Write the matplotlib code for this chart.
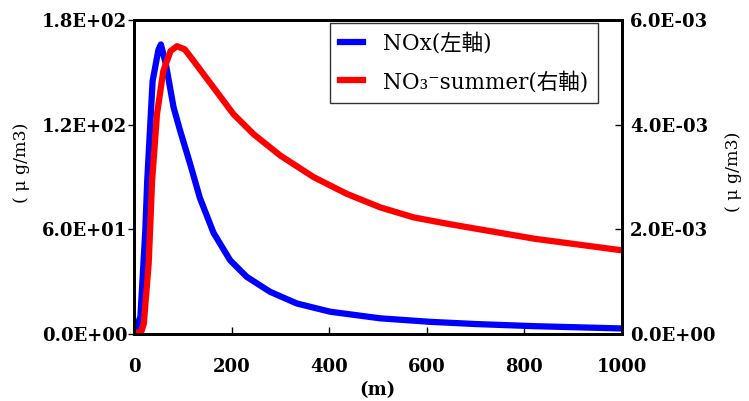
import numpy as np
import matplotlib.pyplot as plt
from matplotlib.ticker import FuncFormatter

# data
dist_nox = [0, 13, 23, 27, 38, 50, 55, 65, 81, 94, 115, 135, 163, 197, 231, 279, 334, 402, 505, 607, 703, 822, 1000]
nox = [0, 10, 59, 88, 145, 163, 166, 155, 130, 117, 97.5, 78, 58, 42.3, 32.8, 24.2, 17.5, 12.8, 9.0, 7.0, 5.7, 4.5, 3.2]

dist_no3 = [0, 15, 20, 30, 37, 47, 60, 75, 88, 104, 122, 163, 204, 245, 300, 368, 436, 505, 573, 641, 703, 822, 1000]
no3 = [0, 0.05, 0.2, 1.35, 2.93, 4.2, 5.03, 5.41, 5.5, 5.44, 5.22, 4.71, 4.20, 3.82, 3.41, 3.0, 2.68, 2.42, 2.23, 2.11, 2.01, 1.82, 1.6]
no3 = [v * 1e-3 for v in no3]

xticks = [0, 200, 400, 600, 800, 1000]
lticks = [0, 60, 120, 180]
rticks = [0, 2e-3, 4e-3, 6e-3]

plt.rcParams['font.family'] = ['DejaVu Serif', 'Noto Sans CJK JP']

fig = plt.figure(figsize=(7.49, 4.01), dpi=100)
ax1 = fig.add_axes([0.179, 0.167, 0.651, 0.783])
ax2 = ax1.twinx()

l1, = ax1.plot(dist_nox, nox, color='#0000ff', lw=4.5, label='NOx(左軸)')
l2, = ax2.plot(dist_no3, no3, color='#ff0000', lw=4.5, label='NO₃⁻summer(右軸)')

ax1.set_xlim(0, 1000)
ax1.set_ylim(0, 180)
ax2.set_ylim(0, 6e-3)
ax1.set_xticks(xticks)
ax1.set_yticks(lticks)
ax2.set_yticks(rticks)

fmt = FuncFormatter(lambda v, p: f"{v:.1E}")
ax1.yaxis.set_major_formatter(fmt)
ax2.yaxis.set_major_formatter(fmt)

for ax in (ax1, ax2):
    for s in ax.spines.values():
        s.set_linewidth(2)
        s.set_color('black')
    for lab in ax.get_yticklabels():
        lab.set_fontweight('bold')

ax1.tick_params(axis='y', direction='out', length=4, width=1, labelsize=13, pad=1)
ax1.tick_params(axis='x', direction='in', length=5, width=1, labelsize=13, pad=17)
ax2.tick_params(axis='y', direction='in', length=5, width=1, labelsize=13, pad=6)
for lab in ax1.get_xticklabels():
    lab.set_fontweight('bold')

ax1.set_xlabel('(m)', fontsize=13, fontweight='bold', labelpad=4)
ax1.set_ylabel('( μ g/m3)', fontsize=12.5)
ax2.set_ylabel('( μ g/m3)', fontsize=12.5, rotation=90)
ax1.yaxis.set_label_coords(-0.213, 0.545)
ax2.yaxis.set_label_coords(1.211, 0.516)

leg = ax2.legend(handles=[l1, l2], loc='upper right', bbox_to_anchor=(0.951, 0.99),
                 fontsize=15.5, handlelength=1.1, fancybox=False, framealpha=1,
                 edgecolor='#333333', borderpad=0.45, labelspacing=0.75,
                 handletextpad=0.9, borderaxespad=0)
leg.get_frame().set_linewidth(1)

plt.savefig('out.png', dpi=100)
